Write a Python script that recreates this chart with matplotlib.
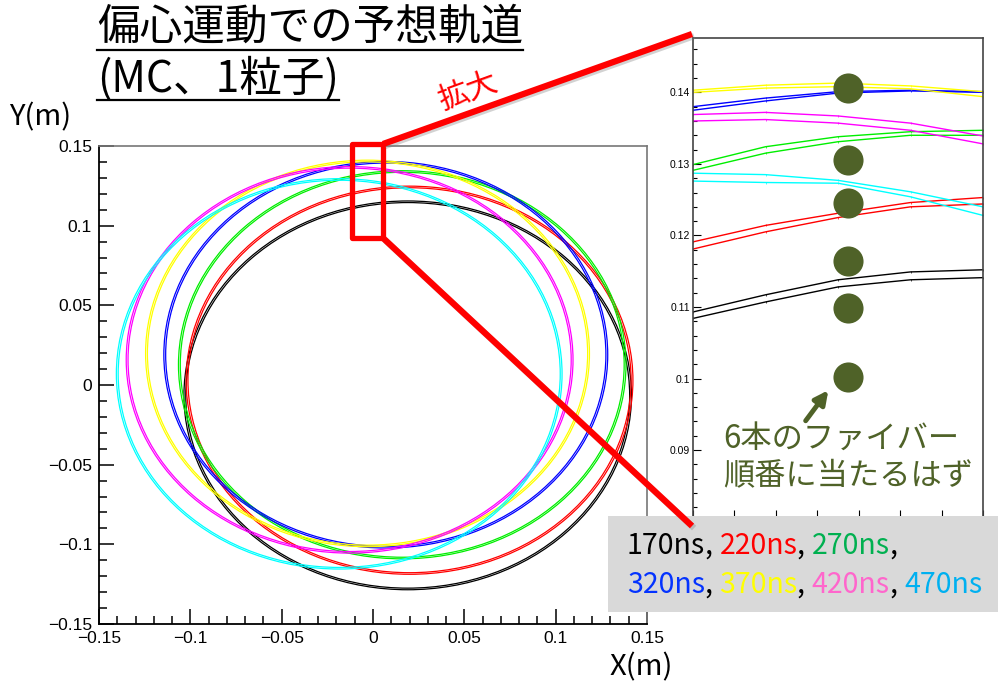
import matplotlib
matplotlib.use('Agg')
import matplotlib.pyplot as plt
import matplotlib.patheffects as pe
from matplotlib.patches import Ellipse, Rectangle
from matplotlib.ticker import MultipleLocator, FuncFormatter

plt.rcParams['font.family'] = ['Liberation Sans', 'DejaVu Sans']
JP = ['Noto Sans CJK JP', 'DejaVu Sans']

# time slices of the simulated particle and their colours
times = ['170ns', '220ns', '270ns', '320ns', '370ns', '420ns', '470ns']
line_colors = ['#000000', '#ff0000', '#00ee00', '#0000ff', '#ffff00', '#ff00ff', '#00ffff']
label_colors = ['#000000', '#ff0000', '#00b050', '#0433ff', '#ffff00', '#ff66cc', '#00b0f0']

# orbit centre and radii for each time slice (m)
orbit_cx = [0.019, 0.020, 0.016, 0.007, -0.003, -0.0128, -0.0185]
orbit_cy = [-0.0065, 0.003, 0.0127, 0.019, 0.0198, 0.0158, 0.007]
orbit_rx = [0.1220, 0.1218, 0.1220, 0.1210, 0.1210, 0.1218, 0.1215]
orbit_ry = [0.1215, 0.1213, 0.1213, 0.1208, 0.1208, 0.1208, 0.1220]
turn_gap = 0.0010

# zoomed view near the top of the orbits: two turns per time slice
zoom_x = [-0.0100, -0.0065, -0.0030, 0.0005, 0.0040]
zoom_turn1 = [
    [0.1093, 0.1117, 0.1138, 0.1149, 0.1152],
    [0.1191, 0.1214, 0.1231, 0.1246, 0.1253],
    [0.1299, 0.1324, 0.1338, 0.1345, 0.1347],
    [0.1380, 0.1392, 0.1401, 0.1403, 0.1401],
    [0.1403, 0.1410, 0.1413, 0.1409, 0.1401],
    [0.1369, 0.1372, 0.1367, 0.1357, 0.1339],
    [0.1287, 0.1285, 0.1277, 0.1261, 0.1240],
]
zoom_turn2 = [
    [0.1084, 0.1107, 0.1128, 0.1138, 0.1141],
    [0.1181, 0.1205, 0.1225, 0.1240, 0.1244],
    [0.1291, 0.1315, 0.1331, 0.1340, 0.1340],
    [0.1375, 0.1388, 0.1399, 0.1402, 0.1400],
    [0.1400, 0.1406, 0.1408, 0.1405, 0.1394],
    [0.1360, 0.1362, 0.1357, 0.1347, 0.1328],
    [0.1276, 0.1274, 0.1273, 0.1254, 0.1228],
]

# scintillating fibres
fiber_x = -0.0025
fiber_y = [0.1406, 0.1305, 0.1246, 0.1164, 0.1099, 0.1002]
olive = '#4f6228'


def root_fmt(v, pos):
    v = round(v, 6)
    if v == 0:
        return '0'
    return ('%g' % v).replace('-', '\u2212')


fig = plt.figure(figsize=(9.98, 6.82), dpi=100)
W, H = 998, 682

# main orbit plot
ax = fig.add_axes([99 / W, 1 - 624 / H, 548 / W, 478 / H])
for i in range(len(times)):
    for d in (-turn_gap / 2, turn_gap / 2):
        ax.add_patch(Ellipse((orbit_cx[i], orbit_cy[i]), 2 * (orbit_rx[i] + d), 2 * (orbit_ry[i] + d),
                             fill=False, edgecolor=line_colors[i], lw=0.9))
ax.set_xlim(-0.15, 0.15)
ax.set_ylim(-0.15, 0.15)
for a in (ax.xaxis, ax.yaxis):
    a.set_major_locator(MultipleLocator(0.05))
    a.set_minor_locator(MultipleLocator(0.01))
    a.set_major_formatter(FuncFormatter(root_fmt))
ax.tick_params(which='both', direction='in', top=False, right=False, width=1.1, labelsize=12.5, pad=5)
ax.tick_params(which='major', length=11)
ax.tick_params(which='minor', length=6)
for s in ('left', 'bottom'):
    ax.spines[s].set_linewidth(1.3)
for s in ('top', 'right'):
    ax.spines[s].set_color('#777777')
    ax.spines[s].set_linewidth(1.2)

# zoomed view
ax2 = fig.add_axes([693 / W, 1 - 518 / H, 290 / W, 480 / H])
for i in range(len(times)):
    ax2.plot(zoom_x, zoom_turn1[i], color=line_colors[i], lw=1.0, marker='|', ms=1.5, mew=0.5)
    ax2.plot(zoom_x, zoom_turn2[i], color=line_colors[i], lw=1.0, marker='|', ms=1.5, mew=0.5)
ax2.scatter([fiber_x] * len(fiber_y), fiber_y, s=470, color=olive, zorder=5, linewidths=0)
ax2.set_xlim(-0.0100, 0.0040)
ax2.set_ylim(0.0805, 0.1476)
ax2.yaxis.set_major_locator(MultipleLocator(0.01))
ax2.yaxis.set_minor_locator(MultipleLocator(0.002))
ax2.yaxis.set_major_formatter(FuncFormatter(root_fmt))
ax2.xaxis.set_major_locator(MultipleLocator(0.002))
ax2.tick_params(which='both', direction='in', top=False, right=False, width=0.8,
                labelsize=7.5, labelbottom=False, pad=2)
ax2.tick_params(which='major', length=6)
ax2.tick_params(which='minor', length=3)
for s in ax2.spines.values():
    s.set_color('#444444')
    s.set_linewidth(1.2)

# overlay in pixel coordinates for the slide annotations
ov = fig.add_axes([0, 0, 1, 1], zorder=10)
ov.set_xlim(0, W)
ov.set_ylim(H, 0)
ov.axis('off')
ov.patch.set_alpha(0)

shadow = [pe.SimpleLineShadow(offset=(1.5, -1.5), shadow_color='gray', alpha=0.35), pe.Normal()]
ov.plot([383, 692], [144, 34], color='red', lw=4.5, solid_capstyle='butt', path_effects=shadow)
ov.plot([383, 692], [238, 526], color='red', lw=4.5, solid_capstyle='butt', path_effects=shadow)
ov.add_patch(Rectangle((352, 144), 31, 94, fill=False, edgecolor='red', lw=3.8, joinstyle='round'))
ov.text(468, 92, '拡大', color='red', fontsize=22, family=JP, rotation=20, ha='center', va='center')

# title
t1 = ov.text(97, 28, '偏心運動での予想軌道', fontsize=30.7, family=JP, ha='left', va='center')
t2 = ov.text(97, 79, '(MC、1粒子)', fontsize=30.7, family=JP, ha='left', va='center')
ov.text(9, 117, 'Y(m)', fontsize=21, family=JP, ha='left', va='center')
ov.text(610, 667, 'X(m)', fontsize=21, family=JP, ha='left', va='center')

# fibre note
ov.annotate('', xy=(830, 388), xytext=(804, 423),
            arrowprops=dict(arrowstyle='-|>', lw=3.5, color=olive, mutation_scale=20))
ov.text(723, 439, '6本のファイバー', fontsize=22.5, family=JP, color=olive, ha='left', va='center')
ov.text(723, 476, '順番に当たるはず', fontsize=22.5, family=JP, color=olive, ha='left', va='center')

# time legend
ov.add_patch(Rectangle((608, 516), 390, 96, facecolor='#d9d9d9', edgecolor='none'))
rows = [times[:3], times[3:]]
row_y = [546, 585]
k = 0
fig.canvas.draw()
renderer = fig.canvas.get_renderer()
inv = ov.transData.inverted()
for r, row in enumerate(rows):
    x = 627
    for j, lab in enumerate(row):
        last = (r == 1 and j == len(row) - 1)
        for part, col in ((lab, label_colors[k]), ('' if last else ', ', 'black')):
            if not part:
                continue
            t = ov.text(x, row_y[r], part, fontsize=20.5, family=JP, color=col, ha='left', va='center')
            bb = t.get_window_extent(renderer)
            x0, _ = inv.transform((bb.x0, bb.y0))
            x1, _ = inv.transform((bb.x1, bb.y0))
            x += x1 - x0
        k += 1

# underline the title lines
for t, y in ((t1, 50), (t2, 100)):
    bb = t.get_window_extent(renderer)
    x0, _ = inv.transform((bb.x0, bb.y0))
    x1, _ = inv.transform((bb.x1, bb.y0))
    ov.plot([x0, x1], [y, y], color='black', lw=1.6)

fig.savefig('out.png', dpi=100)
